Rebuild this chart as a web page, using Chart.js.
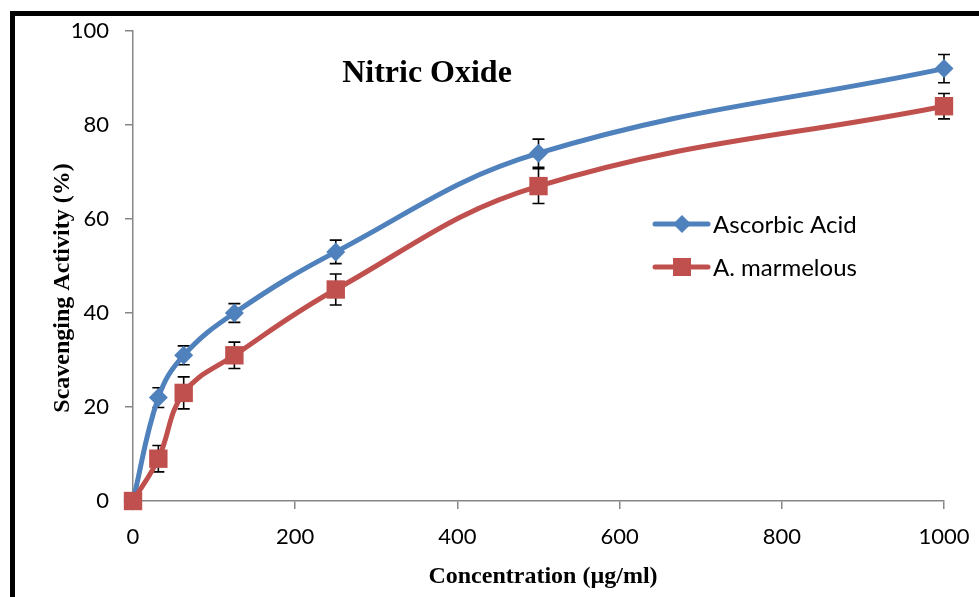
<!DOCTYPE html>
<html>
<head>
<meta charset="utf-8">
<script src="https://cdn.jsdelivr.net/npm/chart.js@4/dist/chart.umd.min.js"></script>
<style>
  html, body { margin: 0; padding: 0; background: #fff; overflow: hidden; }
  #frame { position: absolute; left: 10px; top: 11px; width: 1200px; height: 1200px; border: 5px solid #000; }
  #wrap { position: absolute; left: 0; top: 0; width: 979px; height: 597px; }
</style>
</head>
<body>
<div id="frame"></div>
<div id="wrap"><canvas id="nitric" width="979" height="597"></canvas></div>
<script>
// values
var concentration = [0, 31.25, 62.5, 125, 250, 500, 1000];
var ascorbicAcid = [0, 22, 31, 40, 53, 74, 92];
var ascorbicErr = [0, 2.1, 2, 2, 2.5, 3, 3];
var marmelous = [0, 9, 23, 31, 45, 67, 84];
var marmelousErr = [0, 2.8, 3.4, 2.8, 3.3, 3.7, 2.7];
var seriesNames = ["Ascorbic Acid", "A. marmelous"];

var blue = "#4F81BD";
var red = "#C0504D";
var axisGrey = "#868686";
var sans = "Lato, 'Liberation Sans', sans-serif";
var serif = "'Liberation Serif', 'DejaVu Serif', serif";

function points(ys) {
  var out = [];
  for (var i = 0; i < concentration.length; i++) {
    out.push({ x: concentration[i], y: ys[i] });
  }
  return out;
}

var errors = [ascorbicErr, marmelousErr];

// error bars, drawn before the markers so the markers sit on top
var errorBars = {
  id: "errorBars",
  beforeDatasetsDraw: function (chart) {
    var ctx = chart.ctx;
    var xs = chart.scales.x, ys = chart.scales.y;
    ctx.save();
    ctx.strokeStyle = "#000";
    ctx.lineWidth = 1.6;
    chart.data.datasets.forEach(function (ds, d) {
      ds.data.forEach(function (p, i) {
        var e = errors[d][i];
        if (!e) return;
        var x = xs.getPixelForValue(p.x);
        var top = ys.getPixelForValue(p.y + e);
        var bot = ys.getPixelForValue(p.y - e);
        ctx.beginPath();
        ctx.moveTo(x, top); ctx.lineTo(x, bot);
        ctx.moveTo(x - 6, top); ctx.lineTo(x + 6, top);
        ctx.moveTo(x - 6, bot); ctx.lineTo(x + 6, bot);
        ctx.stroke();
      });
    });
    ctx.restore();
  }
};

// title, axis titles and legend inside the plot
var extras = {
  id: "extras",
  afterDraw: function (chart) {
    var ctx = chart.ctx;
    ctx.save();
    ctx.fillStyle = "#000";
    ctx.textAlign = "center";
    ctx.textBaseline = "middle";

    ctx.font = "bold 32px " + serif;
    ctx.fillText("Nitric Oxide", 427, 74);

    ctx.font = "bold 24px " + serif;
    ctx.fillText("Concentration (\u00b5g/ml)", 543, 577);

    ctx.save();
    ctx.translate(63, 288);
    ctx.rotate(-Math.PI / 2);
    ctx.fillText("Scavenging Activity (%)", 0, 0);
    ctx.restore();

    // legend
    var rows = [224, 267];
    chart.data.datasets.forEach(function (ds, d) {
      var y = rows[d];
      ctx.strokeStyle = ds.borderColor;
      ctx.lineWidth = 5;
      ctx.lineCap = "round";
      ctx.beginPath();
      ctx.moveTo(655, y); ctx.lineTo(708, y);
      ctx.stroke();
      ctx.fillStyle = ds.backgroundColor;
      ctx.beginPath();
      if (d === 0) {
        ctx.moveTo(682 - 9, y); ctx.lineTo(682, y - 9);
        ctx.lineTo(682 + 9, y); ctx.lineTo(682, y + 9);
        ctx.closePath();
        ctx.fill();
      } else {
        ctx.fillRect(682 - 9, y - 9, 18, 18);
      }
      ctx.fillStyle = "#000";
      ctx.textAlign = "left";
      ctx.font = "24px " + sans;
      ctx.fillText(ds.label, 713, y + 1);
    });
    ctx.restore();
  }
};

new Chart(document.getElementById("nitric"), {
  type: "line",
  data: {
    datasets: [
      {
        label: seriesNames[0],
        data: points(ascorbicAcid),
        borderColor: blue,
        backgroundColor: blue,
        borderWidth: 5,
        pointStyle: "rectRot",
        pointRadius: 9.5,
        pointBorderWidth: 0,
        tension: 0.4,
        clip: false,
        order: 1
      },
      {
        label: seriesNames[1],
        data: points(marmelous),
        borderColor: red,
        backgroundColor: red,
        borderWidth: 5,
        pointStyle: "rect",
        pointRadius: 13,
        pointBorderWidth: 0,
        tension: 0.4,
        clip: false,
        order: 0
      }
    ]
  },
  options: {
    responsive: false,
    animation: false,
    devicePixelRatio: 1,
    layout: { padding: { left: 0, right: 35, top: 31, bottom: 0 } },
    plugins: {
      legend: { display: false },
      tooltip: { enabled: false }
    },
    scales: {
      x: {
        type: "linear",
        min: 0,
        max: 1000,
        ticks: {
          stepSize: 200, color: "#000", font: { family: sans, size: 22 }, padding: 15, maxRotation: 0,
          callback: function (v) { return String(v); }
        },
        grid: { drawOnChartArea: false, color: axisGrey, lineWidth: 1.5, tickLength: 8 },
        border: { color: axisGrey, width: 1.5 },
        afterFit: function (s) { s.height = 96; s.paddingRight = 0; s.paddingLeft = 0; }
      },
      y: {
        min: 0,
        max: 100,
        ticks: { stepSize: 20, color: "#000", font: { family: sans, size: 22 }, padding: 16 },
        grid: { drawOnChartArea: false, color: axisGrey, lineWidth: 1.5, tickLength: 8 },
        border: { color: axisGrey, width: 1.5 },
        afterFit: function (s) { s.width = 133; }
      }
    }
  },
  plugins: [errorBars, extras]
});
</script>
</body>
</html>
